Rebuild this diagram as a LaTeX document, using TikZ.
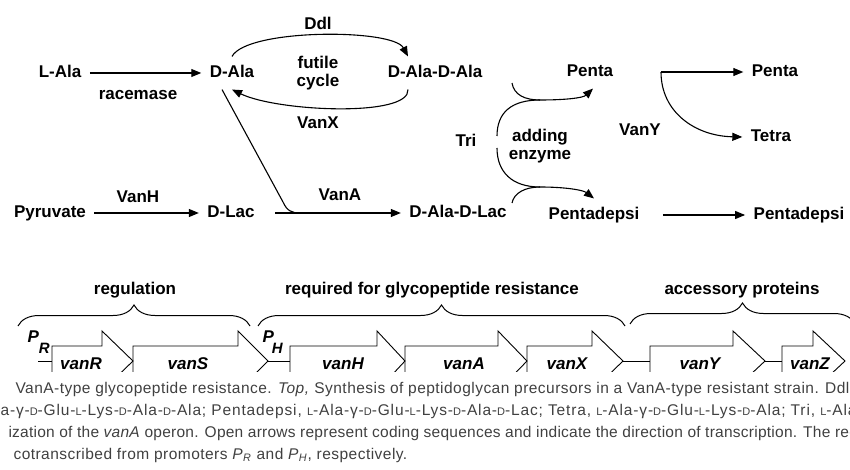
\documentclass[tikz,border=0pt]{standalone}
\usepackage{fontspec}
\setsansfont{Liberation Sans}
\newfontfamily\capfont[LetterSpace=3]{Liberation Sans}
\usetikzlibrary{arrows.meta, calc, decorations.pathreplacing}

\tikzset{
  mol/.style={font=\sffamily\bfseries\fontsize{17}{18}\selectfont, inner sep=8pt, text height=12.5pt, text depth=3.5pt},
  enz/.style={font=\sffamily\bfseries\fontsize{17}{18}\selectfont, inner sep=2pt, align=center},
  genelbl/.style={font=\sffamily\bfseries\itshape\fontsize{17}{18}\selectfont, anchor=base, inner sep=0pt},
  prom/.style={font=\sffamily\bfseries\itshape\fontsize{17}{18}\selectfont, anchor=base west, inner sep=0pt},
  gene/.style={line width=0.9pt},
  capline/.style={font=\capfont\fontsize{15.5}{16}\selectfont, text=black!75, anchor=base west, inner sep=0pt}
}
\newcommand{\smD}{{\fontsize{11}{10}\selectfont D}}
\newcommand{\smL}{{\fontsize{11}{10}\selectfont L}}

\begin{document}
\begin{tikzpicture}[x=1pt, y=-1pt, >={Triangle[length=10pt,width=8pt]}, line width=1.1pt]
	\useasboundingbox (0,0) rectangle (850,470);
	% precursor synthesis
	\node[mol] (lala) at (60,73) {L-Ala}; \node[mol] (dala) at (232,73) {D-Ala}; \node[mol] (dalaala) at (435,73) {D-Ala-D-Ala};
	\node[mol] (pyr) at (50,213) {Pyruvate}; \node[mol] (dlac) at (231,213) {D-Lac}; \node[mol] (dalalac) at (458,213) {D-Ala-D-Lac};
	\node[mol] (penta) at (590,72) {Penta}; \node[mol] (pdepsi) at (594,215) {Pentadepsi}; \node[mol] (tri) at (466,142) {Tri};
	\node[mol] (pentaout) at (775,72) {Penta}; \node[mol] (tetra) at (771,137) {Tetra}; \node[mol] (pdepsiout) at (799,215) {Pentadepsi};

	\node[enz] (racemase) at (138,95) {racemase}; \node[enz] (ddl) at (318,23) {Ddl}; \node[enz] (futile) at (318,73) {futile\\cycle}; \node[enz] (vanx) at (318,123) {VanX};
	\node[enz] (vanh) at (138,197) {VanH}; \node[enz] (vana) at (340,195) {VanA}; \node[enz] (adding) at (540,146) {adding\\enzyme}; \node[enz] (vany) at (640,130) {VanY};

	\draw[->] (lala) -- (dala); \draw[->] (pyr) -- (dlac);
	\draw[->] (dala.north) .. controls +(15,-28) and +(-15,-28) .. ([xshift=-27]dalaala.north);
	\draw[->] ([xshift=-27]dalaala.south) .. controls +(2,28) and +(45,22) .. (dala.south);

	\coordinate (vanajoin) at (300,213);
	\draw[->, shorten <=12pt] (dlac) -- (dalalac);
	\draw ([xshift=-10]dala.south) -- ([shift={(-17,-11)}]vanajoin) .. controls ([shift={(-13,-2)}]vanajoin) and ([shift={(-8,0)}]vanajoin) .. (vanajoin);

	\coordinate (triup) at (497,136); \coordinate (tridn) at (497,148); \coordinate (upjoin) at (540,100); \coordinate (dnjoin) at (540,187);
	\coordinate (dadaend) at (512,83); \coordinate (dalacend) at (512,203);
	\draw[->] (triup) .. controls (497,112) and (512,100) .. (upjoin) .. controls (565,100) and (583,98) .. ([xshift=3]penta.south);
	\draw (dadaend) .. controls (514,95) and (525,100) .. (upjoin);
	\draw[->] (tridn) .. controls (497,172) and (512,187) .. (dnjoin) .. controls (565,187) and (583,190) .. (pdepsi.north);
	\draw (dalacend) .. controls (514,193) and (525,187) .. (dnjoin);

	\coordinate (vanyfork) at (661,72);
	\draw[->] (vanyfork) -- (pentaout); \draw[->] (vanyfork) .. controls (661,112) and (695,136) .. (tetra.west);
	\draw[->, shorten <=15pt] (pdepsi) -- (pdepsiout);

	% vanA operon
	\node[enz] (regul) at (135,290) {regulation}; \node[enz] (reqd) at (432,290) {required for glycopeptide resistance}; \node[enz] (access) at (742,290) {accessory proteins};
	\draw[line width=1pt, decorate, decoration={brace, amplitude=21pt}] (18,326) -- (250,326);
	\draw[line width=1pt, decorate, decoration={brace, amplitude=21pt}] (258,326) -- (625,326);
	\draw[line width=1pt, decorate, decoration={brace, amplitude=21pt}] (630,324) -- (855,324);

	\begin{scope}
		\clip (0,0) rectangle (850,371);
		\draw[gene] (38,361) -- (52,361); \draw[gene] (268,361) -- (290,361); \draw[gene] (623,361) -- (650,361); \draw[gene] (765,361) -- (782,361);
		\draw[gene] (52,376) -- (52,346) -- (102,346) -- (102,331) -- (133,361) -- (102,391) -- (102,376) -- cycle;
		\draw[gene] (133,376) -- (133,346) -- (238,346) -- (238,331) -- (268,361) -- (238,391) -- (238,376) -- cycle;
		\draw[gene] (290,376) -- (290,346) -- (377,346) -- (377,331) -- (405,361) -- (377,391) -- (377,376) -- cycle;
		\draw[gene] (405,376) -- (405,346) -- (498,346) -- (498,331) -- (527,361) -- (498,391) -- (498,376) -- cycle;
		\draw[gene] (527,376) -- (527,346) -- (592,346) -- (592,331) -- (623,361) -- (592,391) -- (592,376) -- cycle;
		\draw[gene] (650,376) -- (650,346) -- (733,346) -- (733,331) -- (765,361) -- (733,391) -- (733,376) -- cycle;
		\draw[gene] (782,376) -- (782,346) -- (813,346) -- (813,331) -- (845,361) -- (813,391) -- (813,376) -- cycle;
		\node[genelbl] (vanR) at (81,369) {vanR}; \node[genelbl] (vanS) at (188,369) {vanS}; \node[genelbl] (vanH) at (343,369) {vanH};
		\node[genelbl] (vanA) at (464,369) {vanA}; \node[genelbl] (vanX) at (567,369) {vanX}; \node[genelbl] (vanY) at (700,369) {vanY}; \node[genelbl] (vanZ) at (810,369) {vanZ};
	\end{scope}
	\node[prom] (pr) at (27,342) {P\raisebox{-11pt}{\fontsize{15}{15}\selectfont R}};
	\node[prom] (ph) at (262,342) {P\raisebox{-11pt}{\kern-2pt\fontsize{15}{15}\selectfont H}};

	% caption
	\begin{scope}
		\clip (0,0) rectangle (850,470);
		\node[capline] (cap1) at (15,393) {VanA-type glycopeptide resistance. \textit{Top,} Synthesis of peptidoglycan precursors in a VanA-type resistant strain. Ddl};
		\node[capline] (cap2) at (0,415) {\addfontfeature{LetterSpace=5.5}a-γ-\smD-Glu-\smL-Lys-\smD-Ala-\smD-Ala; Pentadepsi, \smL-Ala-γ-\smD-Glu-\smL-Lys-\smD-Ala-\smD-Lac; Tetra, \smL-Ala-γ-\smD-Glu-\smL-Lys-\smD-Ala; Tri, \smL-Ala};
		\node[capline] (cap3) at (8,437) {\addfontfeature{LetterSpace=1.6}ization of the \textit{vanA} operon. Open arrows represent coding sequences and indicate the direction of transcription. The regulatory};
		\node[capline] (cap4) at (13,459) {cotranscribed from promoters \textit{P}\textsubscript{\textit{R}} and \textit{P}\textsubscript{\textit{H}}, respectively.};
	\end{scope}
\end{tikzpicture}
\end{document}
